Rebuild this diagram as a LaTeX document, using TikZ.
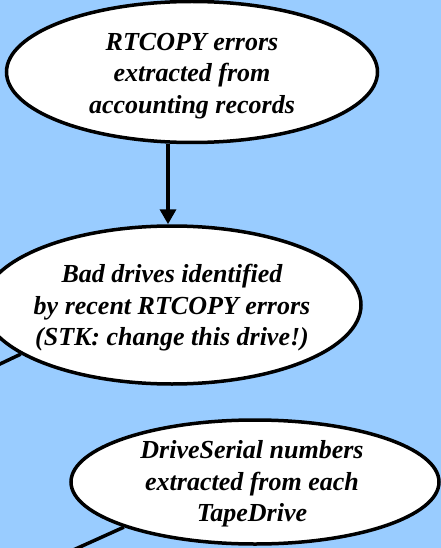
\documentclass[tikz,border=0pt]{standalone}
\usepackage{fontspec}
\setmainfont{Liberation Serif}
\usetikzlibrary{arrows.meta,shapes.geometric}
\definecolor{skyback}{HTML}{99CCFF}

\begin{document}
\begin{tikzpicture}[x=1pt,y=-1pt,
  bub/.style={ellipse,draw=black,fill=white,line width=3.5pt,inner sep=0pt},
  txt/.style={font=\fontsize{26}{31.5}\selectfont\bfseries\itshape,align=center,inner sep=0pt},
  arr/.style={line width=3.5pt,-{Triangle[length=15pt,width=16pt]}},
  conn/.style={line width=3.5pt},
]

%% Canvas (pixel units, y downwards)
\clip (0,0) rectangle (441,548);
\fill[skyback] (0,0) rectangle (441,548);

%% ================================================================
%%  Bubbles
%% ================================================================
\node[bub,minimum width=371pt,minimum height=141pt] (rt) at (192,72) {};
\node[txt] (rtT) at (192,76) {RTCOPY errors\\extracted from\\accounting records};

\node[bub,minimum width=378pt,minimum height=158pt] (bad) at (172,305) {};
\node[txt] (badT) at (172,308) {Bad drives identified\\by recent RTCOPY errors\\(STK: change this drive!)};

\node[bub,minimum width=368pt,minimum height=124pt] (serial) at (255,482) {};
\node[txt] (serialT) at (252,484) {DriveSerial numbers\\extracted from each\\TapeDrive};

%% ================================================================
%%  Connectors
%% ================================================================
\coordinate (ax) at (168,0);
\draw[arr] (ax |- rt.south) -- (ax |- bad.north);

%% leaving the frame to the lower left
\coordinate (offA) at (-40,383);
\coordinate (offB) at (40,565);
\draw[conn] (bad.198) -- (offA);
\draw[conn] (serial.199) -- (offB);

\end{tikzpicture}
\end{document}
